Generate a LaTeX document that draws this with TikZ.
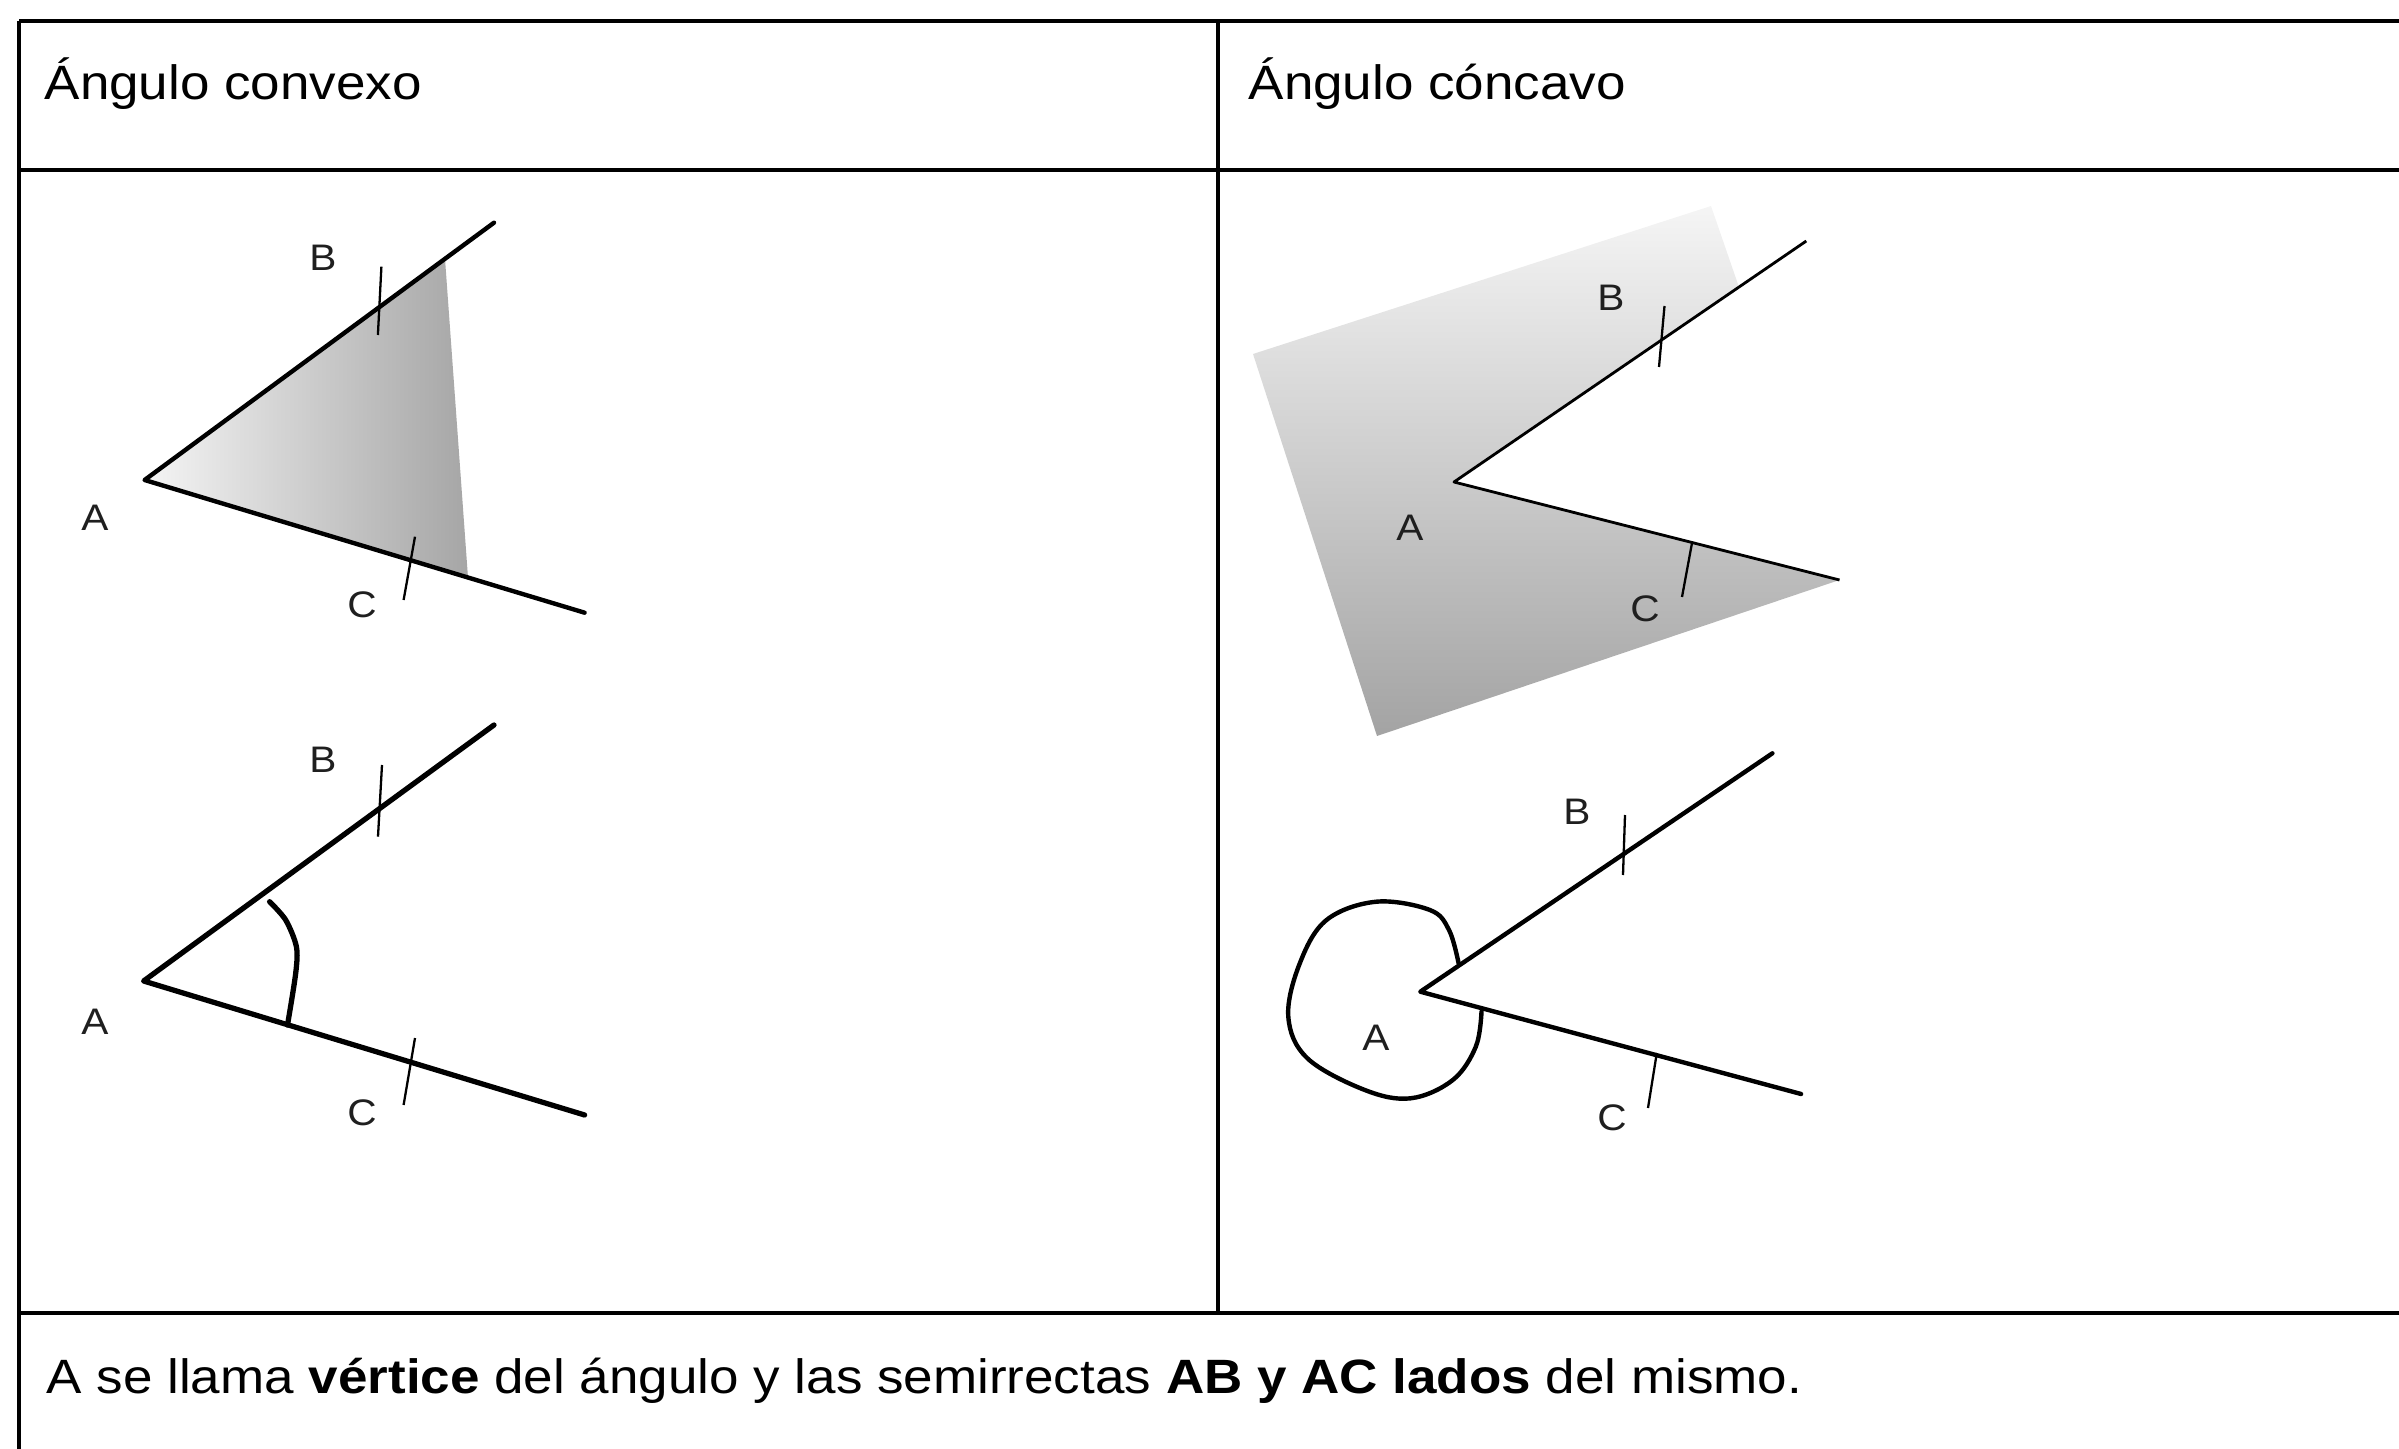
\documentclass[tikz,border=0pt]{standalone}
\usepackage{fontspec}
\setmainfont{Liberation Sans}[FakeStretch=1.1]
\tikzset{
    rule/.style={line width=1.2pt},
    ray/.style={line width=1.25pt, line join=round, line cap=round},
    thickray/.style={line width=1.5pt, line join=round, line cap=round},
    thinray/.style={line width=0.8pt, line join=round},
    tick/.style={line width=0.65pt},
    lbl/.style={font=\fontsize{10.5}{12}\selectfont, text=black!88, inner sep=0pt},
    txt/.style={font=\fontsize{13.7}{16}\selectfont, anchor=base west, inner sep=0pt}
}
\begin{document}
\begin{tikzpicture}[x=0.01cm, y=-0.01cm]
        \useasboundingbox (0,0) rectangle (2399,1449);

        \coordinate (nw) at (19,21);
        \coordinate (ne) at (2399,21);
        \coordinate (hw) at (19,170);
        \coordinate (he) at (2399,170);
        \coordinate (fw) at (19,1313);
        \coordinate (fe) at (2399,1313);
        \coordinate (sw) at (19,1449);
        \coordinate (mt) at (1218,21);
        \coordinate (mb) at (1218,1313);

        \draw[rule] (nw) -- (ne);
        \draw[rule] (hw) -- (he);
        \draw[rule] (fw) -- (fe);
        \draw[rule] (nw) -- (sw);
        \draw[rule] (mt) -- (mb);

        \node[txt] (convexo) at (44,100) {Ángulo convexo};
        \node[txt] (concavo) at (1248,100) {Ángulo cóncavo};
        \node[txt] (nota) at (46,1393) {A se llama \textbf{vértice} del ángulo y las semirrectas \textbf{AB y AC lados} del mismo.};

        \coordinate (A1) at (144.6,480);
        \coordinate (B1) at (494,222.7);
        \coordinate (C1) at (584.6,612.7);
        \shade[left color=gray!8, right color=gray!70] (A1) -- (445,258.7) -- (468,577.5) -- cycle;
        \draw[ray] (B1) -- (A1) -- (C1);
        \draw[tick] (381.4,266.7) -- (377.9,335);
        \draw[tick] (415,536.7) -- (403.6,600);
        \node[lbl] (b1) at (323,258) {B};
        \node[lbl] (a1) at (95,518) {A};
        \node[lbl] (c1) at (362,605) {C};

        \coordinate (A2) at (143.6,981);
        \coordinate (B2) at (494,725);
        \coordinate (C2) at (584.6,1115);
        \draw[thickray] (B2) -- (A2) -- (C2);
        \draw[thickray] plot[smooth] coordinates {(269.6,901.7) (285.7,920) (296.4,946.7) (295.7,973.3) (287.5,1025)};
        \draw[tick] (382,765) -- (378,836.7);
        \draw[tick] (415,1038) -- (403.6,1105);
        \node[lbl] (b2) at (323,760) {B};
        \node[lbl] (a2) at (95,1022) {A};
        \node[lbl] (c2) at (362,1113) {C};

        \coordinate (A3) at (1454,482);
        \coordinate (B3) at (1806.3,241);
        \coordinate (C3) at (1839.5,580);
        \shade[top color=gray!8, bottom color=gray!72] (1253,354) -- (1711,206) -- (1739,287.2) -- (A3) -- (C3) -- (1377,736) -- cycle;
        \draw[thinray] (B3) -- (A3) -- (C3);
        \draw[tick] (1664.5,306) -- (1659,367);
        \draw[tick] (1692,543) -- (1682,597);
        \node[lbl] (b3) at (1611,298) {B};
        \node[lbl] (a3) at (1410,528) {A};
        \node[lbl] (c3) at (1645,609) {C};

        \coordinate (A4) at (1420.3,991.7);
        \coordinate (B4) at (1772.4,753.3);
        \coordinate (C4) at (1801.1,1094);
        \draw[ray] (B4) -- (A4) -- (C4);
        \draw[ray] plot[smooth, tension=0.6] coordinates {(1458.6,963.3) (1449,930) (1429.9,910) (1376.3,901.7) (1326.5,920) (1299.8,963.3) (1288.3,1016.7) (1307.4,1058.3) (1364.8,1090) (1410.7,1098.3) (1452.8,1080) (1475.8,1046.7) (1481.5,1011.7)};
        \draw[tick] (1625,815) -- (1623,875);
        \draw[tick] (1656.8,1053) -- (1648,1108);
        \node[lbl] (b4) at (1577,812) {B};
        \node[lbl] (a4) at (1376,1038) {A};
        \node[lbl] (c4) at (1612,1118) {C};
\end{tikzpicture}
\end{document}
